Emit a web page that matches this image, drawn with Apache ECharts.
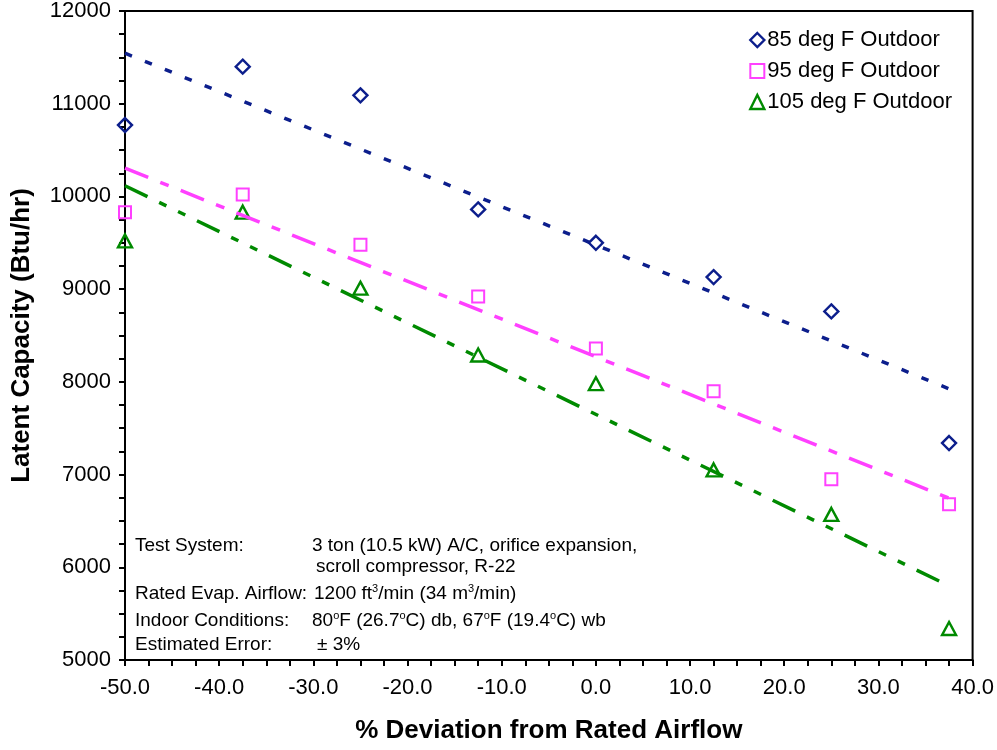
<!DOCTYPE html>
<html>
<head>
<meta charset="utf-8">
<script src="https://cdn.jsdelivr.net/npm/echarts@6/dist/echarts.min.js"></script>
<style>
  html, body { margin: 0; padding: 0; background: #fff; }
  #chart { width: 997px; height: 750px; }
</style>
</head>
<body>
<div id="chart"></div>
<script>
// % deviation from rated evaporator airflow
const airflowDeviation = [-50, -37.5, -25, -12.5, 0, 12.5, 25, 37.5];

// Measured latent capacity (Btu/hr) at each outdoor temperature
const latent85 = [10770, 11400, 11090, 9860, 9500, 9130, 8760, 7340];
const latent95 = [9830, 10020, 9480, 8920, 8360, 7900, 6950, 6680];
const latent105 = [9520, 9830, 9010, 8290, 7980, 7050, 6570, 5340];

// Linear trend lines: value at the first and last airflow point
const trendX = [-50, 37.5];
const trend85 = [11545, 7925];
const trend95 = [10305, 6745];
const trend105 = [10115, 5800];

const seriesNames = ['85 deg F Outdoor', '95 deg F Outdoor', '105 deg F Outdoor'];
const xTicks = { min: -50, max: 40, step: 10 };
const yTicks = { min: 5000, max: 12000, step: 1000 };

const BLUE = '#0c1e8c';
const PINK = '#ff40ff';
const GREEN = '#008a00';
const FONT = "'Liberation Sans', Arial, sans-serif";

const pairs = (xs, ys) => xs.map((x, i) => [x, ys[i]]);

const chart = echarts.init(document.getElementById('chart'), null, { renderer: 'canvas' });

const noteStyle = { fontFamily: FONT, fontSize: 19, fill: '#000', lineHeight: 22 };
const supRich = {
  s: { fontFamily: FONT, fontSize: 11, verticalAlign: 'top', lineHeight: 22, padding: [0, 0, 0, 0] }
};
function note(x, y, text, rich) {
  return {
    type: 'text', left: x, top: y, z: 100,
    style: Object.assign({ text: text, rich: rich || undefined }, noteStyle)
  };
}

const hollow = (c, w) => ({ color: 'rgba(0,0,0,0)', borderColor: c, borderWidth: w, opacity: 1 });

chart.setOption({
  animation: false,
  backgroundColor: '#fff',
  grid: {
    left: 125, right: 23, top: 10, bottom: 90,
    show: true, borderColor: '#000', borderWidth: 2, backgroundColor: 'transparent'
  },
  legend: {
    orient: 'vertical',
    right: 40, top: 24,
    itemWidth: 14, itemHeight: 14, itemGap: 9,
    textStyle: { fontFamily: FONT, fontSize: 22, color: '#000', padding: [0, 0, 0, -2] },
    data: [
      { name: seriesNames[0], icon: 'diamond', itemStyle: hollow(BLUE, 2.4) },
      { name: seriesNames[1], icon: 'rect', itemStyle: hollow(PINK, 2) },
      { name: seriesNames[2], icon: 'triangle', itemStyle: hollow(GREEN, 2.4) }
    ]
  },
  xAxis: {
    type: 'value',
    min: xTicks.min, max: xTicks.max, interval: xTicks.step,
    name: '% Deviation from Rated Airflow',
    nameLocation: 'middle', nameGap: 58,
    nameTextStyle: { fontFamily: FONT, fontSize: 26, fontWeight: 'bold', color: '#000' },
    axisLine: { onZero: false, lineStyle: { color: '#000', width: 2 } },
    axisTick: { show: true, inside: false, length: 6, lineStyle: { color: '#000', width: 2 } },
    minorTick: { show: true, splitNumber: 4, length: 6, lineStyle: { color: '#000', width: 2 } },
    axisLabel: { fontFamily: FONT, fontSize: 22, color: '#000', margin: 17, formatter: v => v.toFixed(1) },
    splitLine: { show: false }
  },
  yAxis: {
    type: 'value',
    min: yTicks.min, max: yTicks.max, interval: yTicks.step,
    name: 'Latent Capacity (Btu/hr)',
    nameLocation: 'middle', nameGap: 90, nameRotate: 90,
    nameTextStyle: { fontFamily: FONT, fontSize: 26, fontWeight: 'bold', color: '#000' },
    axisLine: { onZero: false, lineStyle: { color: '#000', width: 2 } },
    axisTick: { show: true, inside: false, length: 6, lineStyle: { color: '#000', width: 2 } },
    minorTick: { show: true, splitNumber: 4, length: 6, lineStyle: { color: '#000', width: 2 } },
    axisLabel: { fontFamily: FONT, fontSize: 22, color: '#000', margin: 14, formatter: v => String(v) },
    splitLine: { show: false }
  },
  series: [
    {
      name: seriesNames[0], type: 'scatter', symbol: 'diamond', symbolSize: 14,
      itemStyle: hollow(BLUE, 2.4), data: pairs(airflowDeviation, latent85), z: 3
    },
    {
      name: seriesNames[1], type: 'scatter', symbol: 'rect', symbolSize: 12,
      itemStyle: hollow(PINK, 2), data: pairs(airflowDeviation, latent95), z: 3
    },
    {
      name: seriesNames[2], type: 'scatter', symbol: 'triangle', symbolSize: [14, 13],
      itemStyle: hollow(GREEN, 2.4), data: pairs(airflowDeviation, latent105), z: 3
    },
    {
      name: 'trend85', type: 'line', silent: true, symbol: 'none', z: 4,
      lineStyle: { color: BLUE, width: 3.5, type: [7.5, 14], cap: 'butt' },
      data: pairs(trendX, trend85)
    },
    {
      name: 'trend95', type: 'line', silent: true, symbol: 'none', z: 4,
      lineStyle: { color: PINK, width: 3.5, type: [25, 13, 9, 13], cap: 'butt' },
      data: pairs(trendX, trend95)
    },
    {
      name: 'trend105', type: 'line', silent: true, symbol: 'none', z: 4,
      lineStyle: { color: GREEN, width: 3.5, type: [25, 13, 8, 13, 8, 13], cap: 'butt' },
      data: pairs(trendX, trend105)
    }
  ],
  graphic: [
    note(135, 535, 'Test System:'),
    note(312, 535, '3 ton (10.5 kW) A/C, orifice expansion,'),
    note(316, 556, 'scroll compressor, R-22'),
    note(135, 583, 'Rated Evap. Airflow:'),
    note(314, 583, '1200 ft{s|3}/min (34 m{s|3}/min)', supRich),
    note(135, 610, 'Indoor Conditions:'),
    note(312, 610, '80{s|o}F (26.7{s|o}C) db, 67{s|o}F (19.4{s|o}C) wb', supRich),
    note(135, 634, 'Estimated Error:'),
    note(317, 634, '\u00b1 3%')
  ]
});
</script>
</body>
</html>
